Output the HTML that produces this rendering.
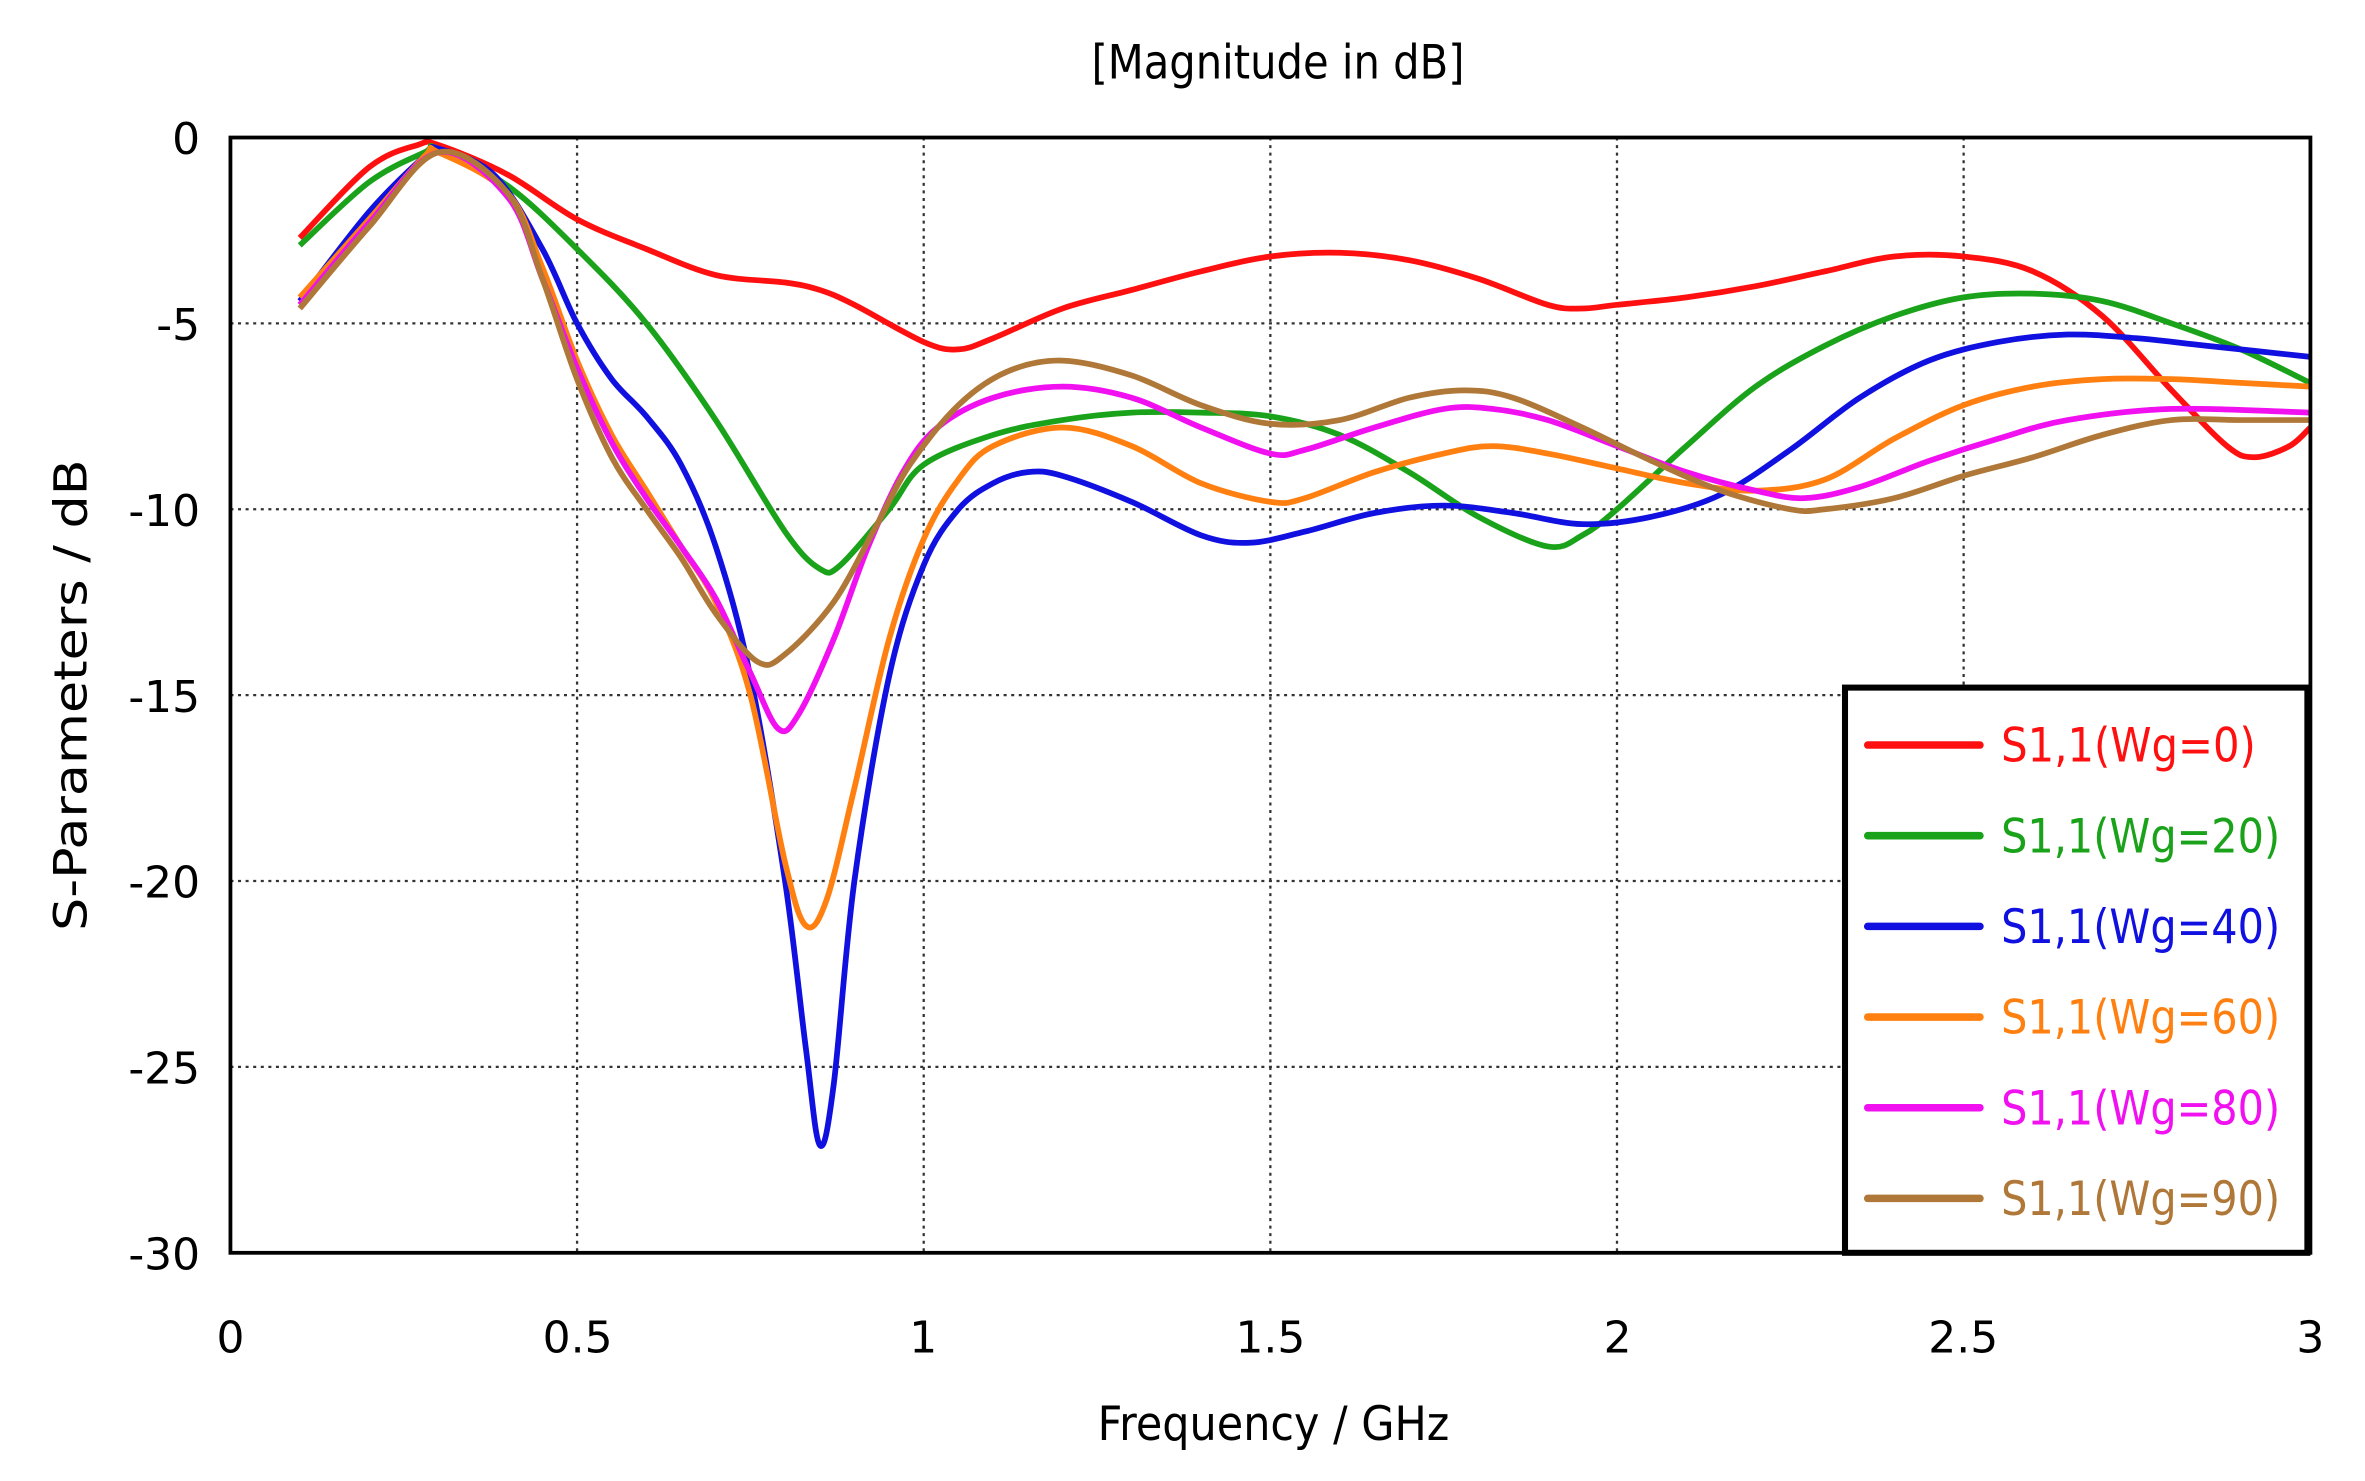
<!DOCTYPE html>
<html><head><meta charset="utf-8"><style>
html,body{margin:0;padding:0;background:#fff;}
svg{display:block;}
text{font-family:"DejaVu Sans","Liberation Sans",sans-serif;}
</style></head><body>
<svg id="s" width="2365" height="1481" viewBox="0 0 1560 980" preserveAspectRatio="none">
<rect width="1560" height="980" fill="#fff"/>
<g id="grid" stroke="#333" stroke-width="1.5" stroke-dasharray="2,3"></g>
<g id="curves" fill="none" stroke-width="3.8" stroke-linejoin="round"></g>
<rect x="152" y="91" width="1372" height="738" fill="none" stroke="#000" stroke-width="2.5"/>
<g font-size="29" fill="#000" text-anchor="end">
<text x="132" y="102">0</text><text x="132" y="225">-5</text><text x="132" y="348">-10</text>
<text x="132" y="471">-15</text><text x="132" y="594">-20</text><text x="132" y="717">-25</text><text x="132" y="840">-30</text>
</g>
<g font-size="29" fill="#000" text-anchor="middle">
<text x="152" y="895">0</text><text x="381" y="895">0.5</text><text x="609" y="895">1</text>
<text x="838" y="895">1.5</text><text x="1067" y="895">2</text><text x="1295" y="895">2.5</text><text x="1524" y="895">3</text>
<text x="843" y="52" textLength="246" lengthAdjust="spacingAndGlyphs" font-size="31">[Magnitude in dB]</text>
<text x="840" y="953" textLength="232" lengthAdjust="spacingAndGlyphs" font-size="31">Frequency / GHz</text>
<text transform="translate(57,460) rotate(-90)" font-size="30" textLength="312" lengthAdjust="spacingAndGlyphs">S-Parameters / dB</text>
</g>
<rect x="1217" y="455" width="305" height="374" fill="#fff" stroke="#000" stroke-width="4"/>
<g id="leg" font-size="31"></g>
</svg>
<script>
var X=function(f){return 152+f*457.3;}, Y=function(d){return 91-d*24.6;};
var g=document.getElementById('grid'),ns='http://www.w3.org/2000/svg';
[0.5,1,1.5,2,2.5].forEach(function(f){var l=document.createElementNS(ns,'line');l.setAttribute('x1',X(f));l.setAttribute('x2',X(f));l.setAttribute('y1',91);l.setAttribute('y2',829);g.appendChild(l);});
[-5,-10,-15,-20,-25].forEach(function(d){var l=document.createElementNS(ns,'line');l.setAttribute('x1',152);l.setAttribute('x2',1524);l.setAttribute('y1',Y(d));l.setAttribute('y2',Y(d));g.appendChild(l);});
var S=[
['#ff1010','S1,1(Wg=0)',[[0.1,-2.7],[0.2,-0.8],[0.27,-0.2],[0.3,-0.2],[0.4,-1],[0.5,-2.2],[0.6,-3],[0.7,-3.7],[0.8,-3.9],[0.85,-4.1],[0.9,-4.5],[1.0,-5.5],[1.05,-5.7],[1.1,-5.4],[1.2,-4.6],[1.3,-4.1],[1.4,-3.6],[1.5,-3.2],[1.6,-3.1],[1.7,-3.3],[1.8,-3.8],[1.9,-4.5],[1.95,-4.6],[2.0,-4.5],[2.1,-4.3],[2.2,-4.0],[2.3,-3.6],[2.4,-3.2],[2.5,-3.2],[2.6,-3.6],[2.7,-4.8],[2.8,-6.8],[2.88,-8.3],[2.92,-8.6],[2.97,-8.3],[3.0,-7.8]]],
['#1aa31a','S1,1(Wg=20)',[[0.1,-2.9],[0.2,-1.2],[0.28,-0.4],[0.3,-0.3],[0.4,-1.3],[0.5,-3],[0.6,-5],[0.7,-7.6],[0.8,-10.6],[0.85,-11.6],[0.88,-11.5],[0.95,-10],[1.0,-8.8],[1.1,-8],[1.2,-7.6],[1.3,-7.4],[1.4,-7.4],[1.5,-7.5],[1.6,-8],[1.7,-9],[1.8,-10.2],[1.9,-11],[1.95,-10.7],[2.0,-10],[2.1,-8.3],[2.2,-6.7],[2.3,-5.6],[2.4,-4.8],[2.5,-4.3],[2.6,-4.2],[2.7,-4.4],[2.8,-5],[2.9,-5.7],[3.0,-6.6]]],
['#1010e0','S1,1(Wg=40)',[[0.1,-4.4],[0.2,-2],[0.28,-0.5],[0.3,-0.3],[0.38,-1],[0.45,-3],[0.5,-5],[0.55,-6.5],[0.6,-7.5],[0.65,-8.8],[0.7,-11],[0.75,-14.5],[0.8,-20],[0.83,-24.5],[0.85,-27.1],[0.87,-25.5],[0.9,-20],[0.95,-14.5],[1.0,-11.5],[1.05,-10],[1.1,-9.3],[1.15,-9.0],[1.2,-9.1],[1.3,-9.8],[1.4,-10.7],[1.47,-10.9],[1.55,-10.6],[1.65,-10.1],[1.75,-9.9],[1.85,-10.1],[1.95,-10.4],[2.05,-10.2],[2.15,-9.6],[2.25,-8.4],[2.35,-7.0],[2.45,-6.0],[2.55,-5.5],[2.65,-5.3],[2.75,-5.4],[2.85,-5.6],[3.0,-5.9]]],
['#ff8010','S1,1(Wg=60)',[[0.1,-4.3],[0.2,-2.2],[0.28,-0.5],[0.3,-0.4],[0.4,-1.5],[0.45,-3.5],[0.5,-6],[0.55,-8],[0.6,-9.5],[0.65,-11],[0.7,-12.5],[0.75,-15],[0.8,-19.5],[0.83,-21.2],[0.86,-20.5],[0.9,-17.5],[0.95,-13.5],[1.0,-10.8],[1.05,-9.2],[1.1,-8.3],[1.2,-7.8],[1.3,-8.3],[1.4,-9.3],[1.5,-9.8],[1.55,-9.7],[1.65,-9.0],[1.75,-8.5],[1.82,-8.3],[1.9,-8.5],[2.0,-8.9],[2.1,-9.3],[2.2,-9.5],[2.3,-9.2],[2.4,-8.1],[2.5,-7.2],[2.6,-6.7],[2.7,-6.5],[2.8,-6.5],[2.9,-6.6],[3.0,-6.7]]],
['#f010f0','S1,1(Wg=80)',[[0.1,-4.5],[0.2,-2.3],[0.3,-0.4],[0.4,-1.6],[0.45,-3.8],[0.5,-6.2],[0.55,-8.2],[0.6,-9.7],[0.65,-11],[0.7,-12.4],[0.75,-14.4],[0.79,-15.9],[0.82,-15.5],[0.87,-13.5],[0.92,-11],[0.97,-9],[1.02,-7.8],[1.1,-7],[1.2,-6.7],[1.3,-7],[1.4,-7.8],[1.5,-8.5],[1.55,-8.4],[1.65,-7.8],[1.75,-7.3],[1.82,-7.3],[1.9,-7.6],[2.0,-8.3],[2.1,-9.0],[2.2,-9.5],[2.27,-9.7],[2.35,-9.4],[2.45,-8.7],[2.55,-8.1],[2.65,-7.6],[2.8,-7.3],[3.0,-7.4]]],
['#b07838','S1,1(Wg=90)',[[0.1,-4.6],[0.2,-2.4],[0.3,-0.4],[0.4,-1.5],[0.45,-3.8],[0.5,-6.5],[0.55,-8.6],[0.6,-10],[0.65,-11.3],[0.7,-12.8],[0.76,-14.1],[0.8,-13.9],[0.87,-12.5],[0.93,-10.5],[0.98,-8.8],[1.05,-7.2],[1.12,-6.3],[1.2,-6.0],[1.3,-6.4],[1.4,-7.2],[1.5,-7.7],[1.6,-7.6],[1.7,-7.0],[1.78,-6.8],[1.85,-7.0],[1.95,-7.8],[2.05,-8.7],[2.15,-9.5],[2.25,-10.0],[2.3,-10.0],[2.4,-9.7],[2.5,-9.1],[2.6,-8.6],[2.7,-8.0],[2.8,-7.6],[2.9,-7.6],[3.0,-7.6]]]
];
var c=document.getElementById('curves'),lg=document.getElementById('leg');
S.forEach(function(s,i){
 var p=s[2].map(function(q){return [X(q[0]),Y(q[1])];});
 var d='M'+p[0][0]+','+p[0][1];
 for(var k=0;k<p.length-1;k++){
  var p0=p[Math.max(k-1,0)],p1=p[k],p2=p[k+1],p3=p[Math.min(k+2,p.length-1)];
  d+=' C'+(p1[0]+(p2[0]-p0[0])/6)+','+(p1[1]+(p2[1]-p0[1])/6)+' '+(p2[0]-(p3[0]-p1[0])/6)+','+(p2[1]-(p3[1]-p1[1])/6)+' '+p2[0]+','+p2[1];
 }
 var e=document.createElementNS(ns,'path');e.setAttribute('d',d);e.setAttribute('stroke',s[0]);c.appendChild(e);
 var y=493+i*60;
 var l=document.createElementNS(ns,'line');l.setAttribute('x1',1232);l.setAttribute('x2',1306);l.setAttribute('y1',y);l.setAttribute('y2',y);l.setAttribute('stroke',s[0]);l.setAttribute('stroke-width',5);l.setAttribute('stroke-linecap','round');lg.appendChild(l);
 var t=document.createElementNS(ns,'text');t.setAttribute('x',1320);t.setAttribute('y',y+11);t.setAttribute('fill',s[0]);
 t.setAttribute('textLength',s[1].length==10?168:184);t.setAttribute('lengthAdjust','spacingAndGlyphs');t.textContent=s[1];lg.appendChild(t);
});
</script>
</body></html>
